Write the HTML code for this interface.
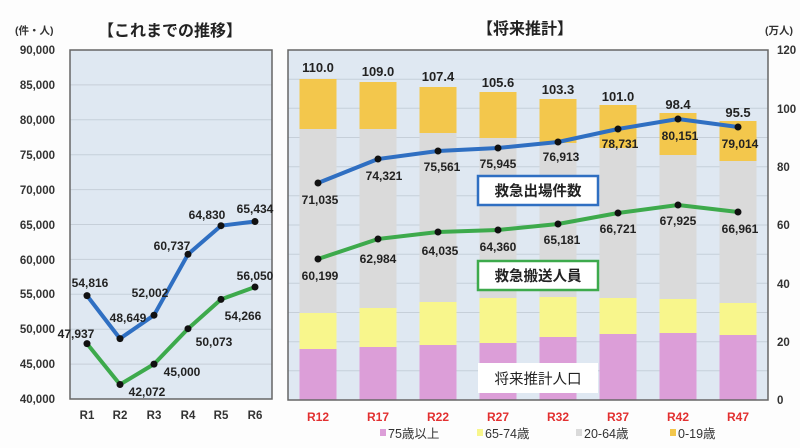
<!DOCTYPE html>
<html><head><meta charset="utf-8"><style>
html,body{margin:0;padding:0;background:#fff;}
svg{display:block;}
text{font-family:"Liberation Sans","Noto Sans CJK JP",sans-serif;}
.n{font-family:"Liberation Sans Narrow","Liberation Sans","Noto Sans CJK JP",sans-serif;font-weight:bold;fill:#222;font-size:12px;}
.ax{font-family:"Liberation Sans Narrow","Liberation Sans",sans-serif;font-weight:bold;fill:#333;font-size:11.5px;}
.rx{font-weight:bold;fill:#e23030;font-size:12px;}
.tot{font-weight:bold;fill:#222;font-size:13px;}
</style></head><body>
<svg width="800" height="448" viewBox="0 0 800 448" xmlns="http://www.w3.org/2000/svg">
<rect width="800" height="448" fill="#fdfdfd"/>
<!-- titles -->
<text x="15" y="34" font-size="10.5" font-weight="bold" fill="#333">(件・人)</text>
<text x="170" y="36" font-size="16" text-anchor="middle" fill="#222" font-weight="bold">【これまでの推移】</text>
<text x="525" y="34" font-size="16" text-anchor="middle" fill="#222" font-weight="bold">【将来推計】</text>
<text x="765" y="34" font-size="10.5" font-weight="bold" fill="#333">(万人)</text>

<!-- LEFT PANEL -->
<rect x="70" y="50" width="202" height="349" fill="#dfe8f2"/>
<g stroke="#c6cfd9" stroke-width="1">
<line x1="70" x2="272" y1="84.9" y2="84.9"/><line x1="70" x2="272" y1="119.8" y2="119.8"/>
<line x1="70" x2="272" y1="154.7" y2="154.7"/><line x1="70" x2="272" y1="189.6" y2="189.6"/>
<line x1="70" x2="272" y1="224.5" y2="224.5"/><line x1="70" x2="272" y1="259.4" y2="259.4"/>
<line x1="70" x2="272" y1="294.3" y2="294.3"/><line x1="70" x2="272" y1="329.2" y2="329.2"/>
<line x1="70" x2="272" y1="364.1" y2="364.1"/>
</g>
<rect x="70" y="50" width="202" height="349" fill="none" stroke="#666" stroke-width="1.5"/>
<g class="ax" text-anchor="end">
<text x="55" y="54">90,000</text><text x="55" y="89">85,000</text><text x="55" y="124">80,000</text>
<text x="55" y="159">75,000</text><text x="55" y="194">70,000</text><text x="55" y="229">65,000</text>
<text x="55" y="264">60,000</text><text x="55" y="298">55,000</text><text x="55" y="333">50,000</text>
<text x="55" y="368">45,000</text><text x="55" y="403">40,000</text>
</g>
<g class="ax" text-anchor="middle" font-size="12">
<text x="87" y="419">R1</text><text x="120" y="419">R2</text><text x="154" y="419">R3</text>
<text x="188" y="419">R4</text><text x="221" y="419">R5</text><text x="255" y="419">R6</text>
</g>
<polyline points="87,295.6 120,338.6 154,315.2 188,254.3 221,225.7 255,221.5" fill="none" stroke="#2f6fc2" stroke-width="4" stroke-linejoin="round"/>
<polyline points="87,343.6 120,384.5 154,364.1 188,328.7 221,299.4 255,287" fill="none" stroke="#3daa4c" stroke-width="4" stroke-linejoin="round"/>
<g fill="#111">
<circle cx="87" cy="295.6" r="3.5"/><circle cx="120" cy="338.6" r="3.5"/><circle cx="154" cy="315.2" r="3.5"/>
<circle cx="188" cy="254.3" r="3.5"/><circle cx="221" cy="225.7" r="3.5"/><circle cx="255" cy="221.5" r="3.5"/>
<circle cx="87" cy="343.6" r="3.5"/><circle cx="120" cy="384.5" r="3.5"/><circle cx="154" cy="364.1" r="3.5"/>
<circle cx="188" cy="328.7" r="3.5"/><circle cx="221" cy="299.4" r="3.5"/><circle cx="255" cy="287" r="3.5"/>
</g>
<g class="n" text-anchor="middle">
<text x="90" y="287">54,816</text><text x="128" y="322">48,649</text><text x="150" y="297">52,002</text>
<text x="172" y="250">60,737</text><text x="207" y="219">64,830</text><text x="255" y="213">65,434</text>
<text x="76" y="338">47,937</text><text x="147" y="396">42,072</text><text x="182" y="376">45,000</text>
<text x="214" y="346">50,073</text><text x="243" y="320">54,266</text><text x="255" y="280">56,050</text>
</g>

<!-- RIGHT PANEL -->
<rect x="288" y="50" width="480" height="350" fill="#dfe8f2"/>
<g stroke="#c6cfd9" stroke-width="1">
<line x1="288" x2="768" y1="370.8" y2="370.8"/><line x1="288" x2="768" y1="341.7" y2="341.7"/>
<line x1="288" x2="768" y1="312.5" y2="312.5"/><line x1="288" x2="768" y1="283.3" y2="283.3"/>
<line x1="288" x2="768" y1="254.2" y2="254.2"/><line x1="288" x2="768" y1="225" y2="225"/>
<line x1="288" x2="768" y1="195.8" y2="195.8"/><line x1="288" x2="768" y1="166.7" y2="166.7"/>
<line x1="288" x2="768" y1="137.5" y2="137.5"/><line x1="288" x2="768" y1="108.3" y2="108.3"/>
<line x1="288" x2="768" y1="79.2" y2="79.2"/>
</g>
<!-- bars: 75+ pink, 65-74 yellow, 20-64 grey, 0-19 orange -->
<g>
<rect x="299.5" y="349" width="37" height="51" fill="#dc9ed8"/><rect x="299.5" y="313" width="37" height="36" fill="#f8f68c"/><rect x="299.5" y="129" width="37" height="184" fill="#dadada"/><rect x="299.5" y="79" width="37" height="50" fill="#f3c74c"/>
<rect x="359.5" y="347" width="37" height="53" fill="#dc9ed8"/><rect x="359.5" y="308" width="37" height="39" fill="#f8f68c"/><rect x="359.5" y="129" width="37" height="179" fill="#dadada"/><rect x="359.5" y="82" width="37" height="47" fill="#f3c74c"/>
<rect x="419.5" y="345" width="37" height="55" fill="#dc9ed8"/><rect x="419.5" y="302" width="37" height="43" fill="#f8f68c"/><rect x="419.5" y="133" width="37" height="169" fill="#dadada"/><rect x="419.5" y="87" width="37" height="46" fill="#f3c74c"/>
<rect x="479.5" y="343" width="37" height="57" fill="#dc9ed8"/><rect x="479.5" y="298" width="37" height="45" fill="#f8f68c"/><rect x="479.5" y="138" width="37" height="160" fill="#dadada"/><rect x="479.5" y="92" width="37" height="46" fill="#f3c74c"/>
<rect x="539.5" y="337" width="37" height="63" fill="#dc9ed8"/><rect x="539.5" y="297" width="37" height="40" fill="#f8f68c"/><rect x="539.5" y="143" width="37" height="154" fill="#dadada"/><rect x="539.5" y="99" width="37" height="44" fill="#f3c74c"/>
<rect x="599.5" y="334" width="37" height="66" fill="#dc9ed8"/><rect x="599.5" y="298" width="37" height="36" fill="#f8f68c"/><rect x="599.5" y="148" width="37" height="150" fill="#dadada"/><rect x="599.5" y="105" width="37" height="43" fill="#f3c74c"/>
<rect x="659.5" y="333" width="37" height="67" fill="#dc9ed8"/><rect x="659.5" y="299" width="37" height="34" fill="#f8f68c"/><rect x="659.5" y="155" width="37" height="144" fill="#dadada"/><rect x="659.5" y="113" width="37" height="42" fill="#f3c74c"/>
<rect x="719.5" y="335" width="37" height="65" fill="#dc9ed8"/><rect x="719.5" y="303" width="37" height="32" fill="#f8f68c"/><rect x="719.5" y="161" width="37" height="142" fill="#dadada"/><rect x="719.5" y="121" width="37" height="40" fill="#f3c74c"/>
</g>
<rect x="288" y="50" width="480" height="350" fill="none" stroke="#666" stroke-width="1.5"/>
<g class="tot" text-anchor="middle">
<text x="318" y="72">110.0</text><text x="378" y="76">109.0</text><text x="438" y="81">107.4</text>
<text x="498" y="87">105.6</text><text x="558" y="94">103.3</text><text x="618" y="101">101.0</text>
<text x="678" y="109">98.4</text><text x="738" y="117">95.5</text>
</g>
<g class="ax" font-size="11" text-anchor="start" font-weight="normal">
<text x="777" y="404">0</text><text x="777" y="346">20</text><text x="777" y="288">40</text>
<text x="777" y="229">60</text><text x="777" y="171">80</text><text x="777" y="113">100</text><text x="777" y="54">120</text>
</g>
<g class="rx" text-anchor="middle">
<text x="318" y="421">R12</text><text x="378" y="421">R17</text><text x="438" y="421">R22</text><text x="498" y="421">R27</text>
<text x="558" y="421">R32</text><text x="618" y="421">R37</text><text x="678" y="421">R42</text><text x="738" y="421">R47</text>
</g>
<polyline points="318,183 378,159 438,151 498,148 558,142 618,129 678,119 738,127" fill="none" stroke="#2f6fc2" stroke-width="4" stroke-linejoin="round"/>
<polyline points="318,259 378,239 438,232 498,230 558,224 618,213 678,205 738,212" fill="none" stroke="#3daa4c" stroke-width="4" stroke-linejoin="round"/>
<g fill="#111">
<circle cx="318" cy="183" r="3.5"/><circle cx="378" cy="159" r="3.5"/><circle cx="438" cy="151" r="3.5"/><circle cx="498" cy="148" r="3.5"/>
<circle cx="558" cy="142" r="3.5"/><circle cx="618" cy="129" r="3.5"/><circle cx="678" cy="119" r="3.5"/><circle cx="738" cy="127" r="3.5"/>
<circle cx="318" cy="259" r="3.5"/><circle cx="378" cy="239" r="3.5"/><circle cx="438" cy="232" r="3.5"/><circle cx="498" cy="230" r="3.5"/>
<circle cx="558" cy="224" r="3.5"/><circle cx="618" cy="213" r="3.5"/><circle cx="678" cy="205" r="3.5"/><circle cx="738" cy="212" r="3.5"/>
</g>
<g class="n" text-anchor="middle">
<text x="320" y="204">71,035</text><text x="384" y="180">74,321</text><text x="442" y="171">75,561</text><text x="498" y="168">75,945</text>
<text x="561" y="161">76,913</text><text x="620" y="148">78,731</text><text x="680" y="140">80,151</text><text x="740" y="148">79,014</text>
<text x="320" y="280">60,199</text><text x="378" y="263">62,984</text><text x="440" y="255">64,035</text><text x="498" y="251">64,360</text>
<text x="562" y="244">65,181</text><text x="618" y="233">66,721</text><text x="678" y="225">67,925</text><text x="740" y="233">66,961</text>
</g>
<rect x="478" y="176" width="120" height="29" fill="#fff" stroke="#2f6fc2" stroke-width="2.5"/>
<text x="538" y="196" font-size="14.5" font-weight="bold" text-anchor="middle" fill="#222">救急出場件数</text>
<rect x="478" y="261" width="120" height="29" fill="#fff" stroke="#3daa4c" stroke-width="2.5"/>
<text x="538" y="281" font-size="14.5" font-weight="bold" text-anchor="middle" fill="#222">救急搬送人員</text>
<rect x="478" y="363" width="120" height="30" fill="#fff"/>
<text x="538" y="384" font-size="14.5" text-anchor="middle" fill="#222">将来推計人口</text>

<!-- legend -->
<rect x="380" y="429" width="6" height="7" fill="#dc9ed8"/><text x="388" y="438" font-size="12.5" fill="#333">75歳以上</text>
<rect x="477" y="429" width="6" height="7" fill="#f8f68c"/><text x="485" y="438" font-size="12.5" fill="#333">65-74歳</text>
<rect x="576" y="429" width="6" height="7" fill="#dadada"/><text x="584" y="438" font-size="12.5" fill="#333">20-64歳</text>
<rect x="670" y="429" width="6" height="7" fill="#f3c74c"/><text x="678" y="438" font-size="12.5" fill="#333">0-19歳</text>
</svg>
</body></html>
